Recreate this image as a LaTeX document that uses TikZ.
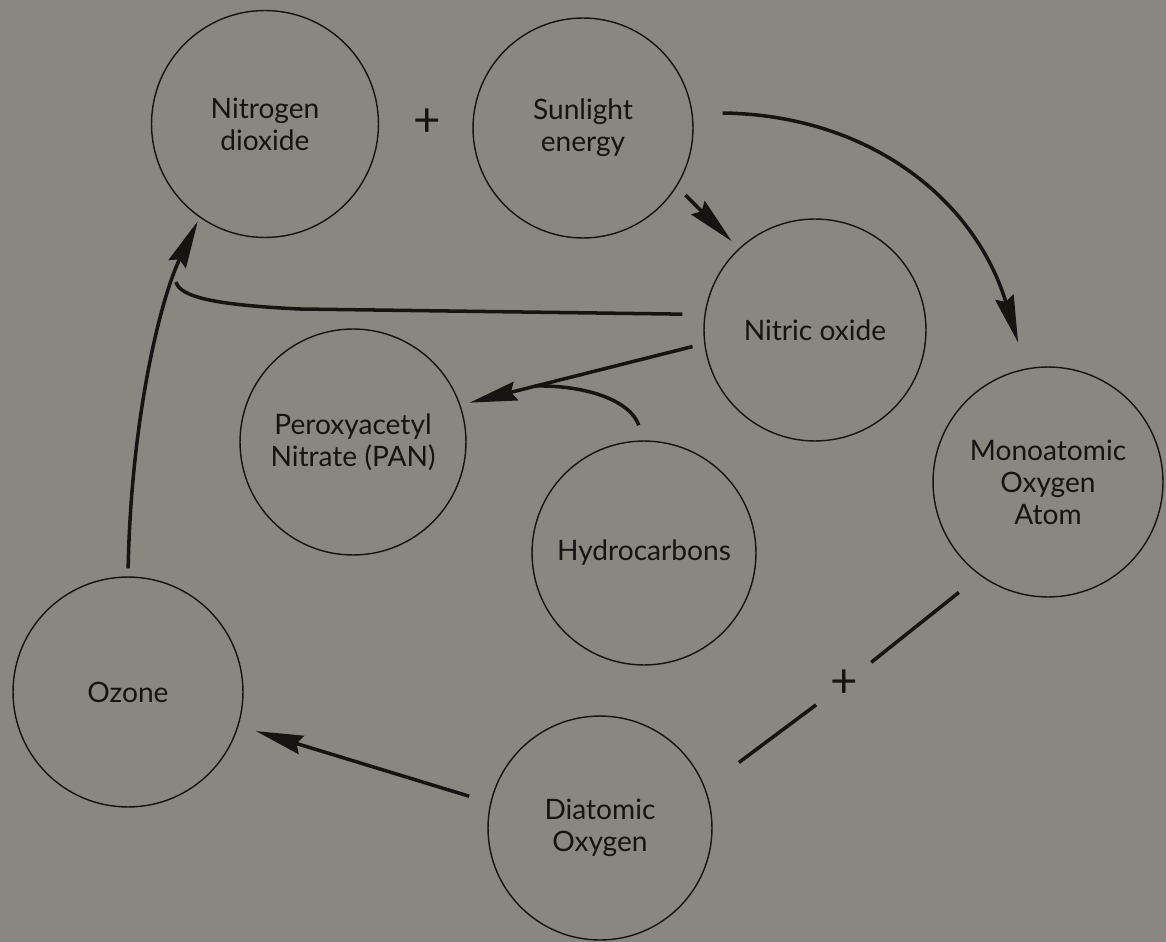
\documentclass[tikz,border=0pt]{standalone}
\usepackage{fontspec}
\setmainfont{Lato}
\usetikzlibrary{arrows.meta}
\definecolor{paperGrey}{RGB}{138,134,128}
\definecolor{inkBlack}{RGB}{22,20,18}

\begin{document}
\begin{tikzpicture}[x=0.02cm, y=-0.02cm,
  blob/.style={circle, draw=inkBlack, line width=0.8pt, minimum size=4.5cm, inner sep=0pt,
    align=center, font=\fontsize{16}{18.2}\selectfont, text=inkBlack},
  flow/.style={-{Stealth[length=0.95cm, width=0.38cm, inset=0.1cm]}, line width=2pt, draw=inkBlack},
  link/.style={line width=2pt, draw=inkBlack},
  plusmark/.style={circle, inner sep=0pt, minimum size=1.38cm, text=inkBlack,
    font=\fontsize{27}{27}\selectfont}
]
\fill[paperGrey] (0,0) rectangle (1166,942);
\useasboundingbox (0,0) rectangle (1166,942);

\node[blob, minimum size=4.54cm] (no2)  at (265,124) {Nitrogen\\dioxide};
\node[blob, minimum size=4.4cm]  (sun)  at (583,128) {Sunlight\\energy};
\node[blob, minimum size=4.44cm] (no)   at (815,330) {Nitric oxide};
\node[blob, minimum size=4.6cm]  (mono) at (1048,482) {Monoatomic\\Oxygen\\Atom};
\node[blob, minimum size=4.52cm] (pan)  at (353,442) {Peroxyacetyl\\Nitrate (PAN)};
\node[blob, minimum size=4.48cm] (hc)   at (644,553) {Hydrocarbons};
\node[blob, minimum size=4.6cm]  (oz)   at (128,692) {Ozone};
\node[blob, minimum size=4.48cm] (dia)  at (600,828) {Diatomic\\Oxygen};

\node[plusmark] (plus1) at (427,123) {+};
\node[plusmark] (plus2) at (844,684) {+};

\coordinate (nojoin) at (176,282);
\coordinate (pjoin)  at (535,386);

% sunlight splits the dioxide
\draw[flow, shorten <=0.6cm, shorten >=0.54cm] (sun.8) .. controls (870,115) and (975,200) .. (mono.101);
\draw[flow, shorten <=0.24cm, shorten >=0.2cm] (sun.-32) -- (no.133);

% back to nitrogen dioxide
\draw[flow, shorten <=0.16cm, shorten >=0.08cm] (oz.north) .. controls (131,420) and (160,300) .. (no2.235);
\draw[link, shorten <=0.44cm] (no.172) -- (300,309) .. controls (215,305) and (180,297) .. (nojoin);

% PAN
\draw[flow, shorten <=0.24cm, shorten >=0.19cm] (no.187) -- (pan.19);
\draw[link, shorten <=0.32cm] (hc.north) .. controls (630,400) and (585,385) .. (pjoin);

% ozone
\draw[link, shorten <=0.54cm] (mono.234) -- (plus2);
\draw[link, shorten >=0.84cm] (plus2) -- (dia.21);
\draw[flow, shorten <=0.44cm, shorten >=0.36cm] (dia.167) -- (oz.-17);
\end{tikzpicture}
\end{document}
